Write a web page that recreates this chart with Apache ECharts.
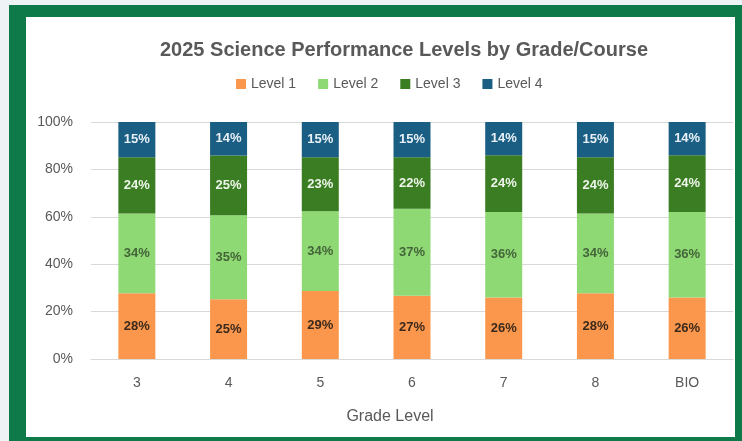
<!DOCTYPE html>
<html>
<head>
<meta charset="utf-8">
<script src="https://cdn.jsdelivr.net/npm/echarts@6/dist/echarts.min.js"></script>
<style>
  body { margin: 0; background: #eef3f6; }
  #frame { position: absolute; left: 9px; top: 5px; width: 733px; height: 436px; background: #0e7a4a; }
  #inner { position: absolute; left: 26px; top: 17px; width: 709px; height: 420px; background: #ffffff; }
  #chart { position: absolute; left: 0; top: 0; width: 742px; height: 441px; }
</style>
</head>
<body>
<div id="frame"></div>
<div id="inner"></div>
<div id="chart"></div>
<script>
var grades = ['3', '4', '5', '6', '7', '8', 'BIO'];
var level1 = [28, 25, 29, 27, 26, 28, 26];
var level2 = [34, 35, 34, 37, 36, 34, 36];
var level3 = [24, 25, 23, 22, 24, 24, 24];
var level4 = [15, 14, 15, 15, 14, 15, 14];
var yTicks = ['0%', '20%', '40%', '60%', '80%', '100%'];

var font = '"Liberation Sans", Arial, sans-serif';

// excel 100% stacked: each column scaled to its own total
var totals = grades.map(function (g, i) {
    return level1[i] + level2[i] + level3[i] + level4[i];
});
function share(arr) {
    return arr.map(function (v, i) { return v / totals[i] * 100; });
}

function makeSeries(name, raw, color, labelColor) {
    return {
        name: name,
        type: 'bar',
        stack: 'all',
        barWidth: 37,
        itemStyle: { color: color },
        label: {
            show: true,
            position: 'inside',
            color: labelColor,
            fontFamily: font,
            fontSize: 13,
            fontWeight: 'bold',
            formatter: function (p) { return raw[p.dataIndex] + '%'; }
        },
        data: share(raw)
    };
}

var chart = echarts.init(document.getElementById('chart'));

var option = {
    backgroundColor: 'transparent',
    animation: false,
    title: {
        text: '2025 Science Performance Levels by Grade/Course',
        left: 399,
        top: 35,
        textAlign: 'center',
        textStyle: { fontFamily: font, fontSize: 20, fontWeight: 'bold', color: '#595959' }
    },
    legend: {
        top: 72,
        left: 231,
        itemWidth: 10,
        itemHeight: 10,
        itemGap: 22,
        icon: 'rect',
        textStyle: { fontFamily: font, fontSize: 14, color: '#595959' },
        data: ['Level 1', 'Level 2', 'Level 3', 'Level 4']
    },
    grid: { left: 91, right: 9, top: 122, bottom: 82 },
    xAxis: {
        type: 'category',
        data: grades,
        name: 'Grade Level',
        nameLocation: 'middle',
        nameGap: 50,
        nameTextStyle: { fontFamily: font, fontSize: 16, color: '#595959', padding: [0, 44, 0, 0] },
        axisLine: { lineStyle: { color: '#d9d9d9' } },
        axisTick: { show: false },
        axisLabel: { margin: 17, fontFamily: font, fontSize: 14, color: '#595959' }
    },
    yAxis: {
        type: 'value',
        min: 0,
        max: 100,
        interval: 20,
        axisLabel: {
            margin: 18,
            fontFamily: font,
            fontSize: 14,
            color: '#595959',
            formatter: function (v) { return yTicks[Math.round(v / 20)]; }
        },
        splitLine: { lineStyle: { color: '#d9d9d9' } }
    },
    series: [
        makeSeries('Level 1', level1, '#fb974c', '#3b2a1c'),
        makeSeries('Level 2', level2, '#8ed973', '#44643a'),
        makeSeries('Level 3', level3, '#3a7d22', '#eef5ea'),
        makeSeries('Level 4', level4, '#1a5e84', '#e8f0f6')
    ]
};
chart.setOption(option);
</script>
</body>
</html>
